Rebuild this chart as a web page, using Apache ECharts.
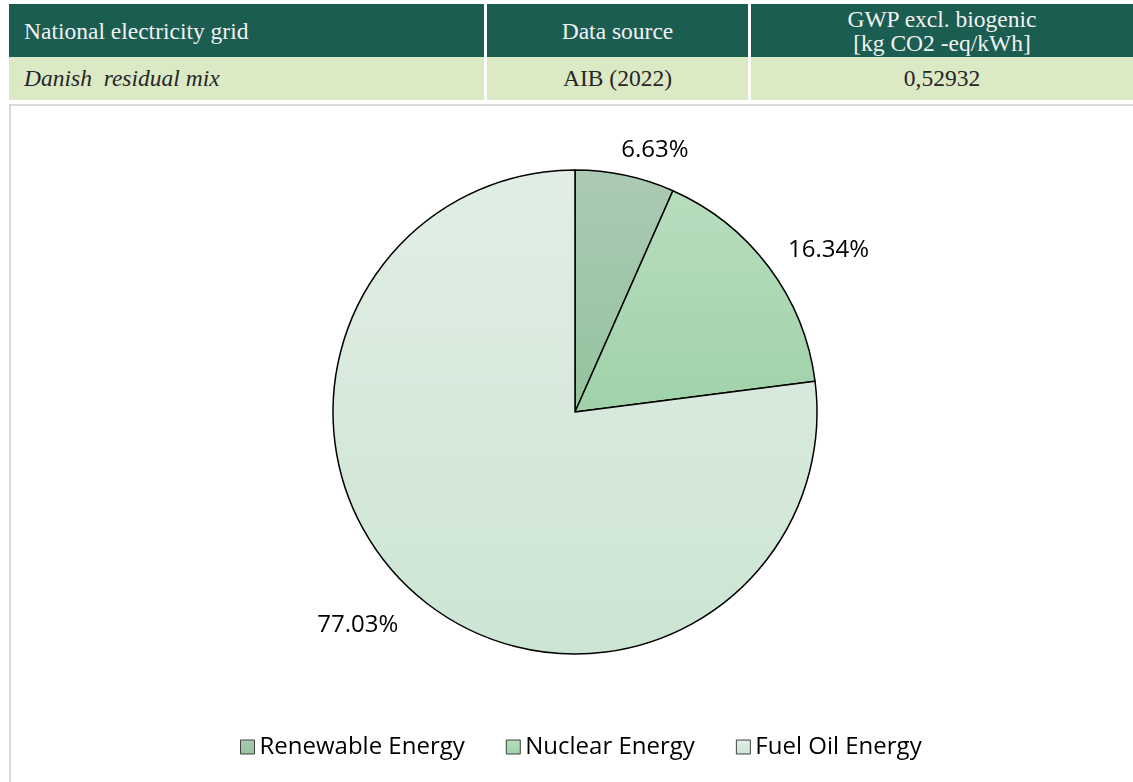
<!DOCTYPE html>
<html>
<head>
<meta charset="utf-8">
<script src="https://cdn.jsdelivr.net/npm/echarts@6/dist/echarts.min.js"></script>
<style>
	body { margin: 0; background: #fff; width: 1133px; height: 782px; overflow: hidden; position: relative; }
	#gridTable { position: absolute; left: 6px; top: 4px; width: 1130px; table-layout: fixed; border-collapse: separate; border-spacing: 3px 0; font-family: "Liberation Serif", serif; font-size: 23.5px; }
	#gridTable td { padding: 0; box-sizing: border-box; }
	#gridTable tr.head td { background: #1b5d51; color: #f2f2f2; height: 53px; line-height: 24px; }
	#gridTable tr.row td { background: #dce9c5; color: #262626; height: 43px; }
	#frame { position: absolute; left: 9px; top: 104px; width: 1124px; height: 678px; border-left: 2px solid #d9d9d9; border-top: 2px solid #d9d9d9; }
	#chart { position: absolute; left: 11px; top: 106px; width: 1122px; height: 676px; }
</style>
</head>
<body>
<table id="gridTable">
	<colgroup>
		<col style="width:475px">
		<col style="width:261px">
		<col style="width:382px">
	</colgroup>
	<tr class="head">
		<td id="h0" style="text-align:left; padding-left:15px;"></td>
		<td id="h1" style="text-align:center;"></td>
		<td id="h2" style="text-align:center;"></td>
	</tr>
	<tr class="row">
		<td id="r0" style="text-align:left; padding-left:15px; font-style:italic;"></td>
		<td id="r1" style="text-align:center;"></td>
		<td id="r2" style="text-align:center;"></td>
	</tr>
</table>
<div id="frame"></div>
<div id="chart"></div>
<script>
// table texts
var tableHeaders = ['National electricity grid', 'Data source', 'GWP excl. biogenic<br>[kg CO2 -eq/kWh]'];
var tableRow = ['Danish&nbsp; residual mix', 'AIB (2022)', '0,52932'];

// pie data
var categories = ['Renewable Energy', 'Nuclear Energy', 'Fuel Oil Energy'];
var shares = [6.63, 16.34, 77.03];

// slice fills, top to bottom
var fillTop = ['#acc9b4', '#b8ddbe', '#e2eee5'];
var fillBottom = ['#93c49d', '#9fd2aa', '#cce5d3'];

// small nudges of the outside labels (dx, dy)
var labelNudge = [[-5, 4], [0, 1], [-2, 9]];

var i;
for(i = 0; i < tableHeaders.length; i++){
	document.getElementById('h' + i).innerHTML = tableHeaders[i];
	document.getElementById('r' + i).innerHTML = tableRow[i];
}

var pieData = [];
for(i = 0; i < categories.length; i++){
	pieData.push({
		name: categories[i],
		value: shares[i],
		itemStyle: {
			color: new echarts.graphic.LinearGradient(0, 0, 0, 1, [
				{offset: 0, color: fillTop[i]},
				{offset: 1, color: fillBottom[i]}
			])
		}
	});
}

var myChart = echarts.init(document.getElementById('chart'));

var option = {
	animation: false,
	legend: {
		data: categories,
		left: 224,
		top: 624,
		icon: 'rect',
		itemWidth: 14,
		itemHeight: 14,
		itemGap: 41,
		itemStyle: { borderColor: '#404040', borderWidth: 1 },
		textStyle: { fontFamily: 'Open Sans', fontSize: 24, color: '#000' }
	},
	series: [
		{
			type: 'pie',
			center: [564, 306],
			radius: 242,
			startAngle: 90,
			clockwise: true,
			emphasis: { disabled: true },
			itemStyle: { borderColor: '#000', borderWidth: 1.5 },
			label: {
				show: true,
				position: 'outside',
				formatter: function(p){ return p.value.toFixed(2) + '%'; },
				fontFamily: 'Open Sans',
				fontSize: 24,
				color: '#000'
			},
			labelLine: { show: false, length: 30, length2: -10 },
			labelLayout: function(params){
				var n = labelNudge[params.dataIndex];
				return { dx: n[0], dy: n[1] };
			},
			data: pieData
		}
	]
};

myChart.setOption(option);
</script>
</body>
</html>
